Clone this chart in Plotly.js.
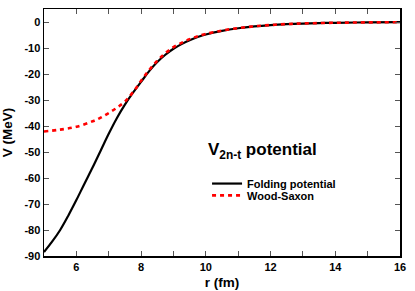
<!DOCTYPE html>
<html>
<head>
<meta charset="utf-8">
<script src="https://cdn.plot.ly/plotly-3.0.1.min.js"></script>
<style>html,body{margin:0;padding:0;background:#fff;}#chart{width:415px;height:291px;}</style>
</head>
<body>
<div id="chart"></div>
<script>
// Folding potential (black solid)
const rFold = [5, 5.25, 5.5, 5.75, 6, 6.25, 6.5, 6.75, 7, 7.25, 7.5, 7.75, 8, 8.25, 8.5, 8.75, 9, 9.25, 9.5, 9.75, 10, 10.5, 11, 11.5, 12, 12.5, 13, 13.5, 14, 15, 16];
const vFold = [-88.5, -84.5, -80, -74.5, -68.5, -62.2, -56, -49.5, -43, -37, -31.8, -27.2, -23, -18.9, -15.4, -12.6, -10.3, -8.5, -7.0, -5.8, -4.8, -3.4, -2.4, -1.7, -1.2, -0.85, -0.6, -0.42, -0.3, -0.15, -0.08];
// Wood-Saxon (red dashed)
const rWS = [5, 5.5, 6, 6.5, 6.75, 7, 7.25, 7.5, 7.75, 8, 8.25, 8.5, 8.75, 9, 9.25, 9.5, 9.75, 10, 10.5, 11, 11.5, 12, 12.5, 13, 14, 15, 16];
const vWS = [-42.1, -41.4, -40.3, -38.2, -36.8, -35, -33, -30.6, -27, -22.6, -18.5, -14.9, -12.0, -9.7, -8.0, -6.6, -5.5, -4.6, -3.3, -2.35, -1.65, -1.15, -0.8, -0.55, -0.3, -0.15, -0.08];

const yTickVals = [0, -10, -20, -30, -40, -50, -60, -70, -80, -90];
const yTickText = ["0", "-10", "-20", "-30", "-40", "-50", "-60", "-70", "-80", "-90"];

const FONT = "Liberation Sans, Arial, Helvetica, sans-serif";

const traces = [
  {x: rFold, y: vFold, mode: "lines", name: "Folding potential", legend: "legend",
   line: {color: "#000", width: 2.2, shape: "spline"}},
  {x: rWS, y: vWS, mode: "lines", name: "Wood-Saxon", legend: "legend2",
   line: {color: "#ff0000", width: 2.6, dash: "4px,4px", shape: "spline"}}
];

const axisCommon = {
  showgrid: false, zeroline: false, showline: true, linecolor: "#000", linewidth: 1.5, mirror: "ticks",
  ticks: "inside", ticklen: 5, tickcolor: "#555", tickwidth: 1,
  tickfont: {family: FONT, size: 11, color: "#000", weight: "bold"}
};

const legendFont = {family: FONT, size: 11, color: "#000", weight: "bold"};

const layout = {
  width: 415, height: 291,
  margin: {l: 44, r: 15, t: 9, b: 35},
  paper_bgcolor: "#fff", plot_bgcolor: "#fff",
  font: {family: FONT, color: "#000"},
  showlegend: true,
  legend: {x: 0.458, y: 0.352, xanchor: "left", yanchor: "top", bgcolor: "rgba(0,0,0,0)", font: legendFont, itemwidth: 30},
  legend2: {x: 0.458, y: 0.304, xanchor: "left", yanchor: "top", bgcolor: "rgba(0,0,0,0)", font: legendFont, itemwidth: 30},
  xaxis: Object.assign({}, axisCommon, {range: [5, 16], tickmode: "linear", tick0: 6, dtick: 2,
    minor: {dtick: 1, ticks: "inside", ticklen: 5, tickcolor: "#555", tickwidth: 1, showgrid: false},
    title: {text: "r (fm)", font: {family: FONT, size: 13.5, weight: "bold"}, standoff: 6}}),
  yaxis: Object.assign({}, axisCommon, {range: [-90, 5], tickmode: "array", tickvals: yTickVals, ticktext: yTickText,
    title: {text: "V (MeV)", font: {family: FONT, size: 13.5, weight: "bold"}, standoff: 8}}),
  annotations: [{
    xref: "paper", yref: "paper", x: 0.455, y: 0.425, xanchor: "left", yanchor: "middle", showarrow: false,
    text: "V<sub>2n-t</sub> potential", font: {family: FONT, size: 17, color: "#000", weight: "bold"}
  }]
};

Plotly.newPlot("chart", traces, layout, {displayModeBar: false, staticPlot: true});
</script>
</body>
</html>
